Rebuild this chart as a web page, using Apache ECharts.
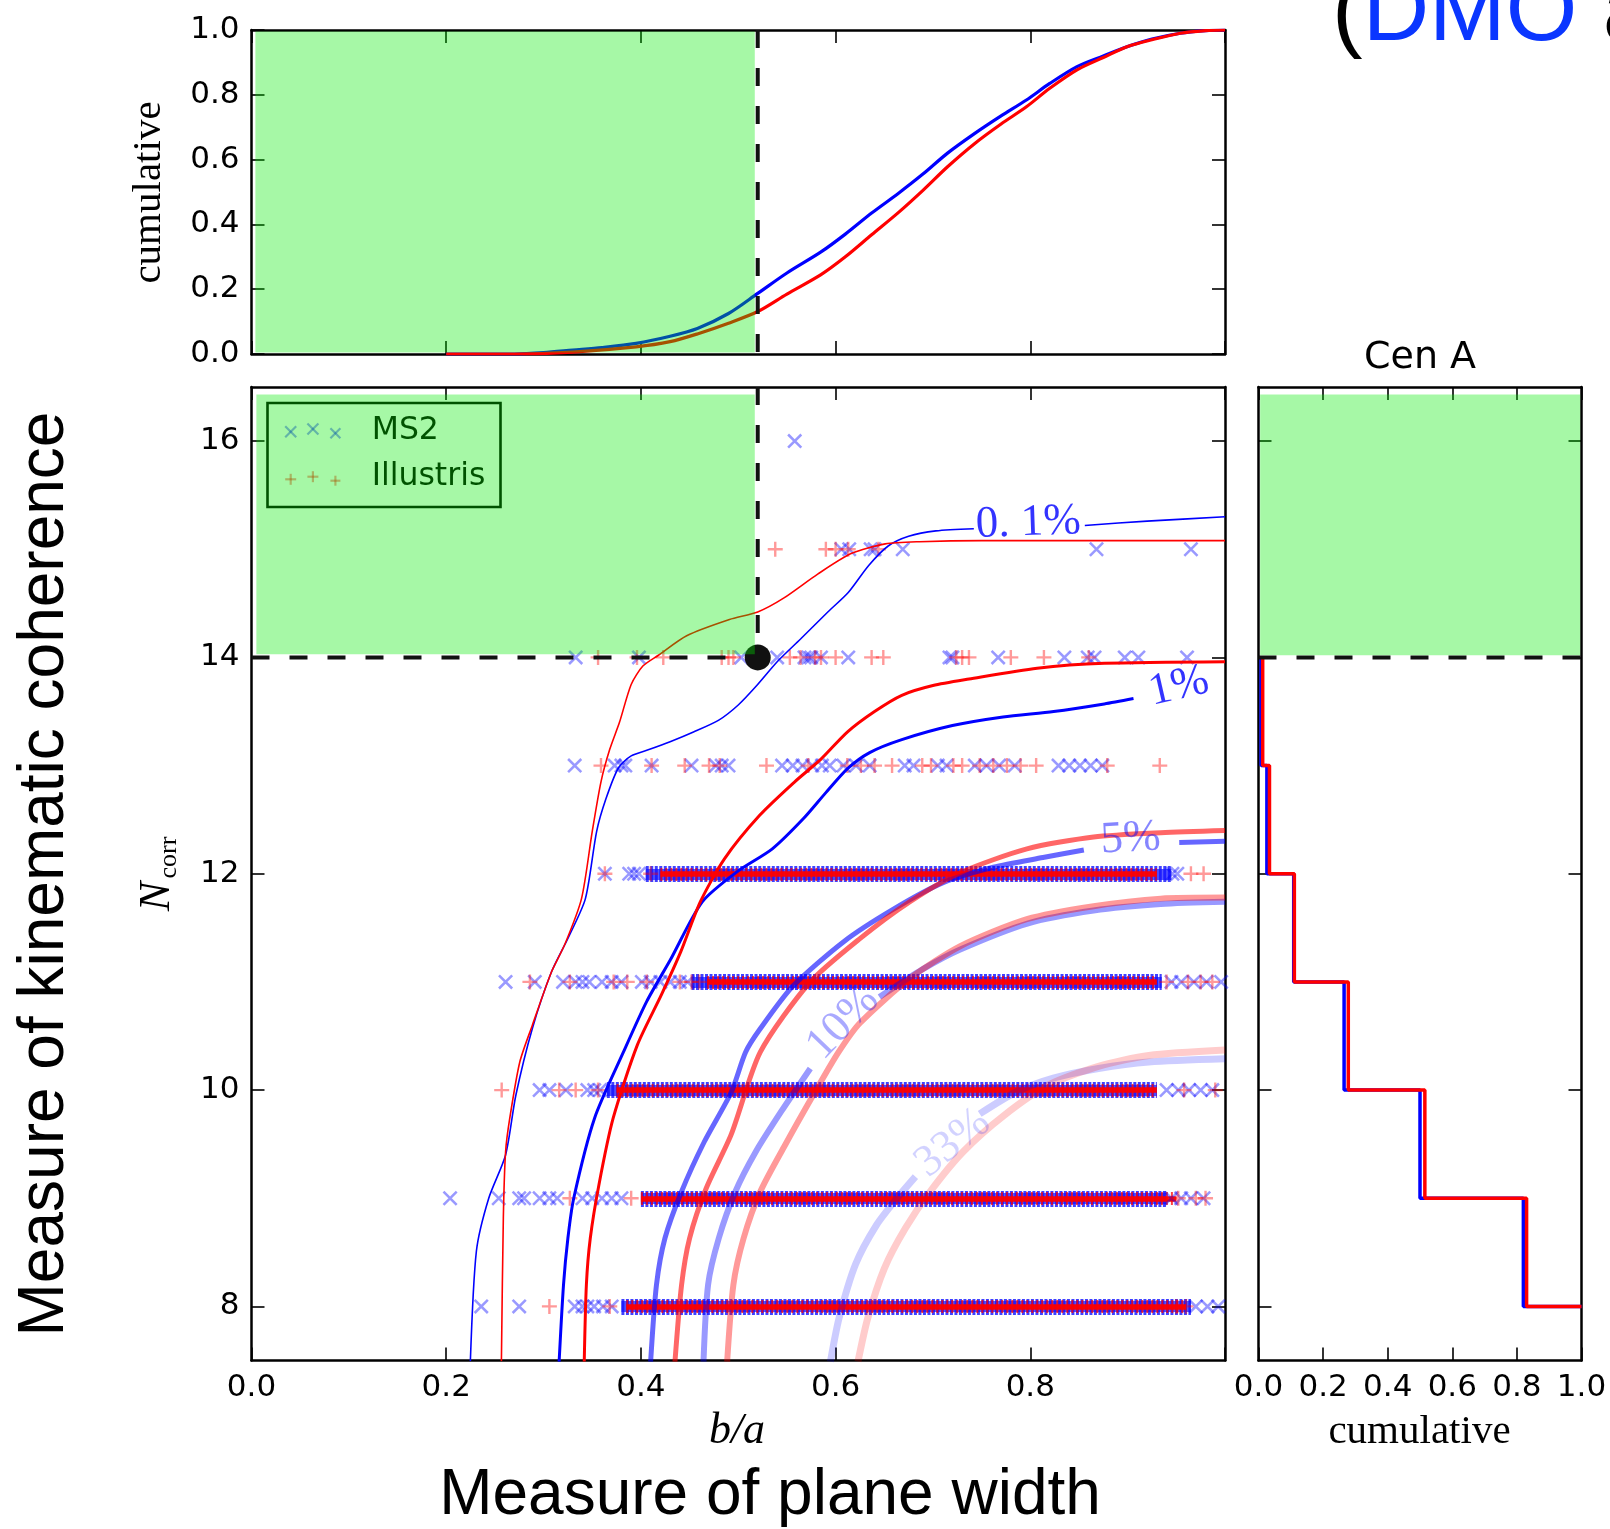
<!DOCTYPE html>
<html><head><meta charset="utf-8">
<script src="https://cdn.jsdelivr.net/npm/echarts@6/dist/echarts.min.js"></script>
<style>html,body{margin:0;padding:0;background:#fff}#c{width:1610px;height:1529px}</style>
</head><body><div id="c"></div>
<script>
// ---------------- DATA ----------------
const xTickValues = [0, 0.2, 0.4, 0.6, 0.8, 1.0];
const nTickValues = [8, 10, 12, 14, 16];
const baThreshold = 0.52;
const nThreshold = 14;
const cenA = [0.52, 14];

// top panel: cumulative distribution of b/a
const cdfMS2 = [[0.2,0],[0.27,0],[0.30,0.004],[0.33,0.012],[0.36,0.02],[0.395,0.033],[0.43,0.055],[0.458,0.079],[0.49,0.125],[0.52,0.187],[0.55,0.25],[0.585,0.315],[0.61,0.37],[0.637,0.435],[0.665,0.497],[0.69,0.556],[0.715,0.62],[0.743,0.681],[0.77,0.735],[0.796,0.784],[0.82,0.835],[0.848,0.887],[0.875,0.92],[0.90,0.949],[0.925,0.972],[0.954,0.99],[0.98,0.998],[1.0,1.0]];
const cdfIllustris = [[0.2,0],[0.27,0],[0.33,0.006],[0.395,0.022],[0.43,0.038],[0.458,0.062],[0.49,0.095],[0.52,0.131],[0.55,0.185],[0.585,0.245],[0.61,0.30],[0.637,0.368],[0.665,0.438],[0.69,0.506],[0.715,0.578],[0.743,0.65],[0.77,0.71],[0.796,0.763],[0.82,0.82],[0.848,0.877],[0.875,0.915],[0.90,0.949],[0.925,0.97],[0.954,0.99],[0.98,0.998],[1.0,1.0]];

// main panel: individual (readable) points per N_corr row
const ms2_N16 = [0.558];
const ill_N16 = [];
const ms2_N15 = [0.606, 0.614, 0.636, 0.640, 0.669, 0.868, 0.965];
const ill_N15 = [0.538, 0.590, 0.600, 0.613, 0.644];
const ms2_N14 = [0.333, 0.398, 0.503, 0.540, 0.568, 0.572, 0.575, 0.585, 0.613, 0.717, 0.720, 0.767, 0.835, 0.859, 0.866, 0.897, 0.911, 0.961];
const ill_N14 = [0.356, 0.396, 0.423, 0.483, 0.490, 0.495, 0.553, 0.564, 0.579, 0.585, 0.600, 0.637, 0.649, 0.724, 0.730, 0.737, 0.780, 0.814, 0.860];
const ms2_N13 = [0.332, 0.373, 0.380, 0.384, 0.411, 0.452, 0.477, 0.483, 0.490, 0.545, 0.556, 0.566, 0.576, 0.586, 0.594, 0.608, 0.621, 0.635, 0.671, 0.680, 0.705, 0.714, 0.743, 0.755, 0.768, 0.784, 0.829, 0.840, 0.851, 0.862, 0.874];
const ill_N13 = [0.359, 0.411, 0.445, 0.470, 0.481, 0.529, 0.572, 0.612, 0.626, 0.640, 0.658, 0.689, 0.698, 0.721, 0.730, 0.748, 0.762, 0.776, 0.790, 0.806, 0.879, 0.933];
const ms2_N12 = [0.363, 0.388, 0.393, 0.398, 0.946, 0.951];
const ill_N12 = [0.363, 0.410, 0.965, 0.978];
const ms2_N11 = [0.261, 0.291, 0.320, 0.333, 0.340, 0.347, 0.360, 0.370, 0.380, 0.401, 0.410, 0.420, 0.430, 0.440, 0.448, 0.945, 0.955, 0.968, 0.981, 0.996];
const ill_N11 = [0.286, 0.327, 0.372, 0.386, 0.406, 0.440, 0.452, 0.460, 0.940, 0.962, 0.975, 0.987];
const ms2_N10 = [0.296, 0.306, 0.323, 0.345, 0.352, 0.358, 0.940, 0.952, 0.963, 0.975, 0.987];
const ill_N10 = [0.257, 0.316, 0.333, 0.356, 0.958, 0.990];
const ms2_N9 = [0.204, 0.254, 0.275, 0.280, 0.296, 0.306, 0.314, 0.340, 0.350, 0.360, 0.370, 0.380, 0.945, 0.955, 0.965, 0.978];
const ill_N9 = [0.327, 0.390, 0.952, 0.970, 0.980];
const ms2_N8 = [0.236, 0.275, 0.332, 0.340, 0.345, 0.352, 0.361, 0.370, 0.970, 0.982, 0.993];
const ill_N8 = [0.306, 0.368, 0.950, 0.960];

// dense (unresolvable) stretches of points per row: [N, b/a start, b/a end]
const ms2Bands = [[12, 0.405, 0.945], [11, 0.452, 0.935], [10, 0.365, 0.93], [9, 0.40, 0.94], [8, 0.38, 0.965]];
const illBands = [[12, 0.42, 0.93], [11, 0.468, 0.93], [10, 0.375, 0.93], [9, 0.40, 0.95], [8, 0.385, 0.96]];

// contours (MS2 blue, Illustris red); "a"/"b" parts are split by inline labels
const contourMS2_01a = [[0.2248,7.49],[0.231,8.51],[0.2437,9.0],[0.261,9.40],[0.2715,9.95],[0.2885,10.57],[0.308,11.09],[0.326,11.42],[0.343,11.77],[0.3545,12.39],[0.364,12.69],[0.377,12.98],[0.39,13.09],[0.409,13.15],[0.43,13.22],[0.454,13.31],[0.48,13.42],[0.50,13.56],[0.519,13.74],[0.54,13.96],[0.564,14.17],[0.592,14.42],[0.613,14.60],[0.634,14.85],[0.654,15.03],[0.675,15.12],[0.703,15.17],[0.742,15.19]];
const contourMS2_01b = [[0.856,15.22],[0.92,15.26],[1.0,15.30]];
const contourIll_01 = [[0.2567,7.49],[0.2587,8.82],[0.261,9.43],[0.2653,9.74],[0.2756,10.26],[0.2885,10.6],[0.308,11.09],[0.322,11.35],[0.339,11.77],[0.35,12.39],[0.359,12.85],[0.368,13.15],[0.378,13.4],[0.39,13.75],[0.402,13.92],[0.418,14.02],[0.447,14.2],[0.491,14.35],[0.52,14.42],[0.547,14.55],[0.5816,14.77],[0.616,14.96],[0.651,15.05],[0.686,15.07],[0.75,15.08],[1.0,15.08]];
const contourMS2_1 = [[0.316,7.49],[0.3205,8.2],[0.325,8.63],[0.331,9.0],[0.3524,9.74],[0.382,10.35],[0.406,10.82],[0.43,11.2],[0.463,11.74],[0.499,12.02],[0.535,12.23],[0.567,12.51],[0.59,12.75],[0.612,12.97],[0.635,13.12],[0.668,13.24],[0.72,13.37],[0.772,13.45],[0.824,13.50],[0.876,13.57],[0.906,13.62]];
const contourIll_1 = [[0.3418,7.49],[0.344,8.2],[0.348,8.63],[0.357,9.13],[0.3715,9.74],[0.3965,10.42],[0.421,10.88],[0.441,11.28],[0.461,11.74],[0.486,12.14],[0.522,12.54],[0.558,12.85],[0.585,13.06],[0.612,13.31],[0.64,13.5],[0.668,13.65],[0.70,13.74],[0.737,13.80],[0.807,13.90],[0.876,13.945],[1.0,13.96]];
const contourMS2_5a = [[0.41,7.49],[0.416,8.2],[0.4247,8.63],[0.4417,9.06],[0.465,9.52],[0.4928,9.98],[0.5075,10.35],[0.522,10.56],[0.556,10.96],[0.608,11.37],[0.659,11.67],[0.711,11.92],[0.762,12.06],[0.813,12.15],[0.855,12.22]];
const contourMS2_5b = [[0.953,12.29],[1.0,12.30]];
const contourIll_5 = [[0.435,7.49],[0.4418,8.2],[0.45,8.63],[0.467,9.09],[0.4928,9.59],[0.5226,10.35],[0.573,10.99],[0.625,11.40],[0.676,11.74],[0.728,12.01],[0.7965,12.23],[0.865,12.34],[0.934,12.38],[1.0,12.40]];
const contourMS2_10a = [[0.4643,7.49],[0.469,8.2],[0.48,8.63],[0.497,9.06],[0.518,9.43],[0.544,9.80],[0.574,10.2]];
const contourMS2_10b = [[0.645,10.86],[0.69,11.12],[0.728,11.30],[0.797,11.54],[0.865,11.66],[0.934,11.72],[1.0,11.74]];
const contourIll_10 = [[0.4886,7.49],[0.495,8.2],[0.5055,8.63],[0.5226,9.06],[0.548,9.49],[0.58,10.0],[0.603,10.35],[0.625,10.62],[0.676,11.03],[0.728,11.33],[0.7965,11.58],[0.865,11.70],[0.934,11.77],[1.0,11.78]];
const contourMS2_33a = [[0.5947,7.49],[0.6035,7.89],[0.6205,8.39],[0.6418,8.75],[0.663,9.0],[0.682,9.2]];
const contourMS2_33b = [[0.748,9.78],[0.785,9.98],[0.8236,10.11],[0.87,10.2],[0.9217,10.26],[1.0,10.29]];
const contourIll_33 = [[0.623,7.49],[0.633,7.89],[0.65,8.35],[0.6715,8.72],[0.697,9.06],[0.731,9.43],[0.7736,9.77],[0.8195,10.05],[0.87,10.22],[0.9217,10.32],[1.0,10.37]];

const contourLabelText = ['0. 1%', '1%', '5%', '10%', '33%'];
const contourLabelPos = [[0.798, 15.24], [0.9526, 13.73], [0.903, 12.32], [0.6077, 10.62], [0.7205, 9.51]];

// right panel: Cen A cumulative step function
const cenALevels = [14, 13, 12, 11, 10, 9, 8];
const cumMS2 = [0.008, 0.026, 0.109, 0.265, 0.50, 0.82, 1.0];
const cumIllustris = [0.013, 0.034, 0.111, 0.278, 0.515, 0.83, 1.0];

// highlighted (green) regions [x0, y0, x1, y1]
const greenTop = [0.004, 0.005, 0.517, 0.995];
const greenMain = [0.005, 14.03, 0.517, 16.43];
const greenRight = [0.005, 14.02, 0.996, 16.43];

// ---------------- STYLE ----------------
const BLUE = '#0000ff', RED = '#ff0000';
const SANS = 'DejaVu Sans', SERIF = 'Liberation Serif', HELV = 'Liberation Sans';
const GREEN = 'rgba(0,235,0,0.35)';
const X_PATH = 'path://M0,12L12,0L100,88L88,100ZM88,0L100,12L12,100L0,88Z';
const PLUS_PATH = 'path://M42,0H58V42H100V58H58V100H42V58H0V42H42Z';

const axisLine = {show: true, onZero: false, lineStyle: {color: '#000', width: 2.5}};
const axisTick = {show: true, inside: true, length: 13, lineStyle: {color: '#000', width: 1.6}};
const labelBase = {color: '#000', fontFamily: SANS, fontSize: 31, margin: 12};

function xAx(grid, pos, labelFmt) {
  return {type: 'value', gridIndex: grid, position: pos, min: 0, max: 1, interval: 0.2,
    axisLine, axisTick, splitLine: {show: false},
    axisLabel: labelFmt ? Object.assign({show: true, formatter: labelFmt}, labelBase) : {show: false}};
}
function yAxN(grid, pos, showLabel) {
  return {type: 'value', gridIndex: grid, position: pos, min: 7.5, max: 16.5,
    axisLine, splitLine: {show: false},
    axisTick: Object.assign({customValues: nTickValues}, axisTick),
    axisLabel: showLabel ? Object.assign({show: true, customValues: nTickValues, formatter: v => String(v)}, labelBase) : {show: false}};
}
function yAxC(grid, pos, showLabel) {
  return {type: 'value', gridIndex: grid, position: pos, min: 0, max: 1, interval: 0.2,
    axisLine, axisTick, splitLine: {show: false},
    axisLabel: showLabel ? Object.assign({show: true, formatter: v => v.toFixed(1)}, labelBase) : {show: false}};
}

const series = [];
function line(xi, yi, data, color, width, opacity, extra) {
  return Object.assign({type: 'line', xAxisIndex: xi, yAxisIndex: yi, data, showSymbol: false, symbol: 'none',
    silent: true, z: 3, lineStyle: {color, width, opacity: opacity == null ? 1 : opacity}}, extra || {});
}
// top panel CDFs
series.push(line(0, 0, cdfMS2, BLUE, 3.2, 1, {z: 2, smooth: 0.3}));
series.push(line(0, 0, cdfIllustris, RED, 3.2, 1, {z: 2, smooth: 0.3}));

// threshold dashed lines
const dashStyle = {color: '#111', width: 4, type: [18, 20], cap: 'butt'};
function dashLine(xi, yi, data) {
  return {type: 'line', xAxisIndex: xi, yAxisIndex: yi, data, showSymbol: false, symbol: 'none', silent: true, z: 4, lineStyle: dashStyle};
}
series.push(dashLine(0, 0, [[baThreshold, 1], [baThreshold, 0]]));
series.push(dashLine(2, 2, [[baThreshold, 16.5], [baThreshold, nThreshold]]));
series.push(dashLine(2, 2, [[0, nThreshold], [baThreshold, nThreshold]]));
series.push(dashLine(4, 4, [[0, nThreshold], [1, nThreshold]]));

// dense bands (textured with dashes to mimic overlapping markers)
function bandData(bands) { return bands.map(b => ({coords: [[b[1], b[0]], [b[2], b[0]]]})); }
function band(bands, color, width, opacity, type) {
  return {type: 'lines', coordinateSystem: 'cartesian2d', xAxisIndex: 2, yAxisIndex: 2, silent: true, z: 2,
    data: bandData(bands), lineStyle: {color, width, opacity, type: type || 'solid', cap: 'butt'}};
}
series.push(band(ms2Bands, '#1010ff', 16, 0.8, [3, 1.5]));
series.push(band(ms2Bands, '#1010ff', 11, 0.7));
series.push(band(illBands, RED, 13, 0.75, [2, 3]));
series.push(band(illBands, RED, 5.5, 0.95));

// individual points
function rows(list) { const out = []; list.forEach(([n, xs]) => xs.forEach(x => out.push([x, n]))); return out; }
const ms2Rows = [[8, ms2_N8], [9, ms2_N9], [10, ms2_N10], [11, ms2_N11], [12, ms2_N12], [13, ms2_N13], [14, ms2_N14], [15, ms2_N15], [16, ms2_N16]];
const illRows = [[8, ill_N8], [9, ill_N9], [10, ill_N10], [11, ill_N11], [12, ill_N12], [13, ill_N13], [14, ill_N14], [15, ill_N15], [16, ill_N16]];
series.push({type: 'scatter', name: 'MS2', xAxisIndex: 2, yAxisIndex: 2, data: rows(ms2Rows), symbol: X_PATH, symbolSize: 15,
  itemStyle: {color: BLUE, opacity: 0.4}, silent: true, z: 2});
series.push({type: 'scatter', name: 'Illustris', xAxisIndex: 2, yAxisIndex: 2, data: rows(illRows), symbol: PLUS_PATH, symbolSize: 15,
  itemStyle: {color: RED, opacity: 0.4}, silent: true, z: 2});

// contours
const contourSpec = [
  [contourMS2_01a, BLUE, 1.6, 1], [contourMS2_01b, BLUE, 1.6, 1], [contourIll_01, RED, 1.6, 1],
  [contourMS2_1, BLUE, 3, 1], [contourIll_1, RED, 3, 1],
  [contourMS2_5a, BLUE, 5, 0.6], [contourMS2_5b, BLUE, 5, 0.6], [contourIll_5, RED, 5, 0.6],
  [contourMS2_10a, BLUE, 6, 0.4], [contourMS2_10b, BLUE, 6, 0.4], [contourIll_10, RED, 6, 0.4],
  [contourMS2_33a, BLUE, 7, 0.2], [contourMS2_33b, BLUE, 7, 0.2], [contourIll_33, RED, 7, 0.2]
];
contourSpec.forEach(([d, c, w, o]) => series.push(line(2, 2, d, c, w, o, {smooth: 0.25, z: 3})));

// contour labels
const labelColors = ['#0000ff', '#0000ff', 'rgba(0,0,255,0.6)', 'rgba(0,0,255,0.42)', 'rgba(0,0,255,0.22)'];
const labelRot = [2, 13, 3, 46, 39];
series.push({type: 'scatter', xAxisIndex: 2, yAxisIndex: 2, symbolSize: 1, silent: true, z: 5,
  itemStyle: {color: 'rgba(0,0,0,0)'},
  data: contourLabelPos.map((p, i) => ({value: p, label: {show: true, position: 'inside', formatter: contourLabelText[i],
    rotate: labelRot[i], color: labelColors[i], fontFamily: SERIF, fontSize: 45}}))});

// Cen A point
series.push({type: 'scatter', xAxisIndex: 2, yAxisIndex: 2, data: [cenA], symbol: 'circle', symbolSize: 26,
  itemStyle: {color: '#111', opacity: 1}, silent: true, z: 6});

// right panel steps
function steps(levels, cum) {
  const pts = [];
  levels.forEach((lv, i) => { pts.push([cum[i], lv]); if (i < levels.length - 1) pts.push([cum[i], lv - 1]); });
  return pts;
}
series.push(line(4, 4, steps(cenALevels, cumMS2), BLUE, 3.5, 1, {z: 3}));
series.push(line(4, 4, steps(cenALevels, cumIllustris), RED, 3.5, 1, {z: 3}));

// green highlighted regions (drawn on top, translucent)
function greenRect(xi, yi, r) {
  return {type: 'custom', xAxisIndex: xi, yAxisIndex: yi, data: [r], encode: {x: [0, 2], y: [1, 3]}, silent: true, z: 10, clip: false,
    renderItem: (params, api) => {
      const a = api.coord([api.value(0), api.value(1)]);
      const b = api.coord([api.value(2), api.value(3)]);
      return {type: 'rect', shape: {x: Math.min(a[0], b[0]), y: Math.min(a[1], b[1]), width: Math.abs(b[0] - a[0]), height: Math.abs(b[1] - a[1])},
        style: {fill: GREEN}};
    }};
}
series.push(greenRect(0, 0, greenTop));
series.push(greenRect(2, 2, greenMain));
series.push(greenRect(4, 4, greenRight));

// ---------------- TEXT / LEGEND (graphic) ----------------
function txt(text, x, y, fontSize, family, opts) {
  opts = opts || {};
  return {type: 'text', x, y, rotation: opts.rot || 0, z: opts.z || 50, silent: true,
    style: {text, fill: opts.color || '#000', fontSize, fontFamily: family, fontStyle: opts.italic ? 'italic' : 'normal',
      align: opts.align || 'center', textAlign: opts.align || 'center', verticalAlign: 'middle', textVerticalAlign: 'middle',
      rich: opts.rich}};
}
function xMark(cx, cy, s, color) {
  const h = s / 2;
  return [
    {type: 'line', z: 1, silent: true, shape: {x1: cx - h, y1: cy - h, x2: cx + h, y2: cy + h}, style: {stroke: color, lineWidth: 2.2}},
    {type: 'line', z: 1, silent: true, shape: {x1: cx - h, y1: cy + h, x2: cx + h, y2: cy - h}, style: {stroke: color, lineWidth: 2.2}}
  ];
}
function plusMark(cx, cy, s, color) {
  const h = s / 2;
  return [
    {type: 'line', z: 1, silent: true, shape: {x1: cx - h, y1: cy, x2: cx + h, y2: cy}, style: {stroke: color, lineWidth: 2.2}},
    {type: 'line', z: 1, silent: true, shape: {x1: cx, y1: cy - h, x2: cx, y2: cy + h}, style: {stroke: color, lineWidth: 2.2}}
  ];
}
const ms2LegColor = 'rgba(0,0,255,0.4)', illLegColor = 'rgba(255,0,0,0.4)';
const graphics = [
  // legend (below the green overlay)
  {type: 'rect', z: 1, silent: true, shape: {x: 267.5, y: 403, width: 233, height: 104}, style: {fill: 'none', stroke: '#000', lineWidth: 2.6}},
  ...xMark(290.7, 431.7, 11, ms2LegColor), ...xMark(312.9, 429, 11, ms2LegColor), ...xMark(335.4, 433.3, 10, ms2LegColor),
  ...plusMark(290.7, 479.3, 11, illLegColor), ...plusMark(312.9, 476.7, 11, illLegColor), ...plusMark(335.4, 480.7, 10, illLegColor),
  txt('MS2', 371.7, 430.6, 31.5, SANS, {align: 'left', z: 1}),
  txt('Illustris', 371.7, 476.8, 31.5, SANS, {align: 'left', z: 1}),
  // axis titles
  txt('cumulative', 149.5, 192.5, 41, SERIF, {rot: Math.PI / 2}),
  txt('N', 157.7, 896.5, 44, SERIF, {rot: Math.PI / 2, italic: true}),
  txt('corr', 168.8, 857.5, 26, SERIF, {rot: Math.PI / 2}),
  txt('b/a', 737, 1431, 44, SERIF, {italic: true}),
  txt('cumulative', 1419.5, 1432.5, 41, SERIF),
  txt('Cen A', 1420, 358.6, 38, SANS),
  // annotations
  txt('Measure of plane width', 770, 1496, 64, HELV),
  txt('Measure of kinematic coherence', 45.8, 874, 64, HELV, {rot: Math.PI / 2}),
  txt('{k|(}{b|DMO}{k| and hydro)}', 1332, 14.3, 92, HELV, {align: 'left',
    rich: {k: {fill: '#000', fontSize: 92, fontFamily: HELV}, b: {fill: '#0a36ff', fontSize: 92, fontFamily: HELV}}})
];

// ---------------- CHART ----------------
const chart = echarts.init(document.getElementById('c'), null, {renderer: 'canvas', width: 1610, height: 1529});
chart.setOption({
  animation: false,
  backgroundColor: '#fff',
  grid: [
    {left: 251.5, top: 30, width: 973.5, height: 324, outerBoundsMode: 'none', containLabel: false},
    {left: 251.5, top: 387, width: 973.5, height: 973.5, outerBoundsMode: 'none', containLabel: false},
    {left: 1258.5, top: 387, width: 323, height: 973.5, outerBoundsMode: 'none', containLabel: false}
  ],
  xAxis: [
    xAx(0, 'bottom', null), xAx(0, 'top', null),
    xAx(1, 'bottom', v => (v > 0.99 ? '' : v.toFixed(1))), xAx(1, 'top', null),
    xAx(2, 'bottom', v => v.toFixed(1)), xAx(2, 'top', null)
  ],
  yAxis: [
    yAxC(0, 'left', true), yAxC(0, 'right', false),
    yAxN(1, 'left', true), yAxN(1, 'right', false),
    yAxN(2, 'left', false), yAxN(2, 'right', false)
  ],
  series,
  graphic: {elements: graphics}
});
</script>
</body></html>
